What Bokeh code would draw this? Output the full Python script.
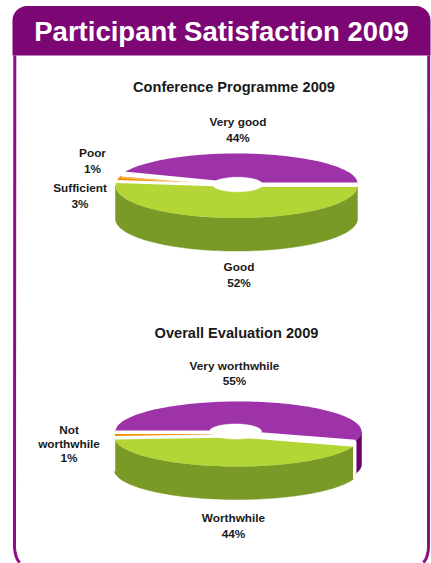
import math
from bokeh.plotting import figure
from bokeh.models import Range1d
from bokeh.core.properties import value
from bokeh.embed import file_html
from bokeh.resources import INLINE

# ---- data
page_title = "Participant Satisfaction 2009"

chart1_title = "Conference Programme 2009"
chart1_categories = ["Very good", "Poor", "Sufficient", "Good"]
chart1_values = [44, 1, 3, 52]
chart1_labels = ["Very good\n44%", "Poor\n1%", "Sufficient\n3%", "Good\n52%"]

chart2_title = "Overall Evaluation 2009"
chart2_categories = ["Very worthwhile", "Not worthwhile", "Worthwhile"]
chart2_values = [55, 1, 44]
chart2_labels = ["Very worthwhile\n55%", "Not\nworthwhile\n1%", "Worthwhile\n44%"]

# ---- styles and layout
PURPLE_DARK = "#7d0675"
FRAME = "#8a0f84"
TEXT = "#1a1a1a"
FONT = value("Liberation Sans")

TOPS1 = ["#9e32a8", "#ffd766", "#f39200", "#b3d636"]
SIDES1 = ["#6a0068", "#e0c070", "#c07000", "#7a9a28"]
TOPS2 = ["#9e32a8", "#f39200", "#b3d636"]
SIDES2 = ["#6a0068", "#c07000", "#7a9a28"]

# per slice centre in page pixels: (cx, cy, rx, ry)
GEOM1 = [(236, 183, 121, 30), (236, 186.5, 121, 31), (236, 184.5, 121, 31), (236, 185.5, 121, 32)]
GEOM2 = [(238, 431, 123, 30), (237, 433.5, 122, 30), (236.5, 436, 123, 30)]
STROKES1 = [2, 0.5, 2, 2]
STROKES2 = [2, 0, 2]
HOLE1 = (237, 184, 25, 7.3)
HOLE2 = (235, 431, 26, 7.5)
DEPTH1, DEPTH2 = 33, 33
START1, START2 = 0.0, -18.0

LABEL_POS1 = [(237.5, 121), (92, 152), (79.5, 187), (238.5, 266)]
LABEL_POS2 = [(234, 365), (68.5, 429), (233, 517)]
LHS1 = [16.5, 16.5, 16.5, 16.5]
LHS2 = [15.5, 14, 16]

W, H = 431, 563
p = figure(width=W, height=H, x_range=Range1d(0, 431), y_range=Range1d(563, 0),
           toolbar_location=None, output_backend="svg", min_border=0,
           outline_line_color=None, background_fill_color="white", border_fill_color="white")
p.axis.visible = False
p.grid.visible = False


def arc(cx, cy, rx, ry, a0, a1, n=None):
    n = n or max(2, int(abs(a1 - a0) / 2) + 1)
    xs, ys = [], []
    for i in range(n + 1):
        t = math.radians(a0 + (a1 - a0) * i / n)
        xs.append(cx + rx * math.cos(t))
        ys.append(cy - ry * math.sin(t))
    return xs, ys


def pie(values, geom, tops, sides, hole, depth, start, strokes):
    a = start
    spans = []
    for v in values:
        b = a + v * 3.6
        spans.append((a, b))
        a = b
    # side walls: only the front half of each slice (angles 180..360)
    for (a0, b0), g, col in zip(spans, geom, sides):
        cx, cy, rx, ry = g
        for shift in (0, 360, -360):
            lo = max(a0 + shift, 180)
            hi = min(b0 + shift, 360)
            if hi > lo:
                x1, y1 = arc(cx, cy, rx, ry, lo, hi)
                x2, y2 = arc(cx, cy + depth, rx, ry, hi, lo)
                p.patch(x1 + x2, y1 + y2, fill_color=col, line_color=col, line_width=0.5)
                for ang in (lo, hi):
                    if 180 < ang < 360:
                        ex, ey = arc(cx, cy, rx, ry, ang, ang, 1)
                        p.line([ex[0], ex[0]], [ey[0], ey[0] + depth],
                               line_color="white", line_width=2)
    # top faces, with white only along the radial cuts
    for (a0, b0), g, col in zip(spans, geom, tops):
        cx, cy, rx, ry = g
        x1, y1 = arc(cx, cy, rx, ry, a0, b0)
        p.patch([cx] + x1, [cy] + y1, fill_color=col, line_color=None)
    for (a0, b0), g, w in zip(spans, geom, strokes):
        if w:
            cx, cy, rx, ry = g
            x1, y1 = arc(cx, cy, rx, ry, a0, b0)
            p.line([x1[0], cx, x1[-1]], [y1[0], cy, y1[-1]], line_color="white", line_width=w)
    hx, hy, hrx, hry = hole
    x1, y1 = arc(hx, hy, hrx, hry, 0, 360, 72)
    p.patch(x1, y1, fill_color="white", line_color="white", line_width=0.5)


def labels(texts, pos, heights, size="11.8px"):
    for t, (x, y), lh in zip(texts, pos, heights):
        for i, part in enumerate(t.split("\n")):
            p.text([x], [y + i * lh], text=[part], text_font=FONT,
                   text_font_style="bold", text_font_size=size, text_color=TEXT,
                   text_align="center", text_baseline="middle")


# frame
fx, fy = arc(22, 545, 8, 18, 180, 250, 12)
p.line([14.3] + fx, [55] + fy, line_color=FRAME, line_width=3)
fx, fy = arc(420, 545, 8, 18, 0, -70, 12)
p.line([428.2] + fx, [55] + fy, line_color=FRAME, line_width=3)

# header band with rounded top corners
xl, yl = arc(27, 20, 15, 14.5, 180, 90, 14)
xr, yr = arc(415, 20, 15, 14.5, 90, 0, 14)
p.patch([12] + xl + xr + [430], [55] + yl + yr + [55], fill_color=PURPLE_DARK, line_color=None)
p.text([221], [30.5], text=[page_title], text_font=FONT, text_font_style="bold",
       text_font_size="27.5px", text_color="white", text_align="center", text_baseline="middle")

# chart 1
p.text([233.5], [86], text=[chart1_title], text_font=FONT, text_font_style="bold",
       text_font_size="14.6px", text_color=TEXT, text_align="center", text_baseline="middle")
pie(chart1_values, GEOM1, TOPS1, SIDES1, HOLE1, DEPTH1, START1, STROKES1)
labels(chart1_labels, LABEL_POS1, LHS1)

# chart 2
p.text([236], [332], text=[chart2_title], text_font=FONT, text_font_style="bold",
       text_font_size="14.6px", text_color=TEXT, text_align="center", text_baseline="middle")
pie(chart2_values, GEOM2, TOPS2, SIDES2, HOLE2, DEPTH2, START2, STROKES2)
labels(chart2_labels, LABEL_POS2, LHS2)

open("out.html", "w").write(file_html(p, INLINE))
